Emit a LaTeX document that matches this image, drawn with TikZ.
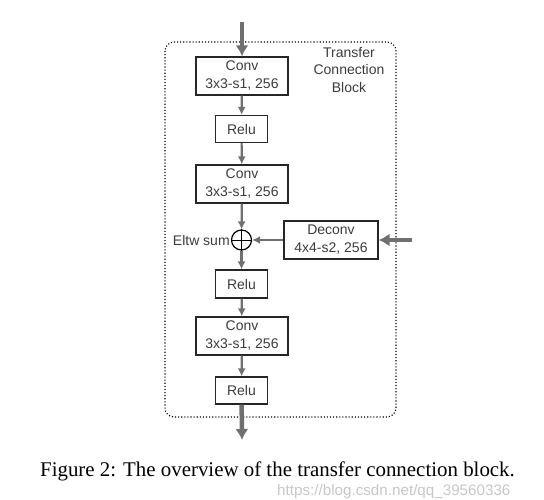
\documentclass[tikz,border=0pt]{standalone}
\usepackage{fontspec}
\setmainfont{Liberation Serif}
\setsansfont{Liberation Sans}
\usepackage{xcolor}
\usetikzlibrary{arrows.meta}
\definecolor{flowgray}{HTML}{707070}
\definecolor{textgray}{HTML}{3C3C3C}
\tikzset{
  layer/.style={draw=black!85,line width=1.2pt,inner sep=0pt,align=center,
    font=\sffamily\fontsize{14}{18}\selectfont,text=textgray},
  convbox/.style={layer,minimum width=92pt,minimum height=38pt},
  relubox/.style={layer,minimum width=52pt,minimum height=27pt},
  flow/.style={-{Latex[length=8pt,width=8pt]},color=flowgray,line width=2.2pt},
  mainflow/.style={-{Latex[length=11pt,width=13pt]},color=flowgray,line width=4.5pt}
}
\begin{document}
\begin{tikzpicture}[x=1pt,y=1pt]
		\useasboundingbox (0,0) rectangle (544,-500);
		\draw[line width=1.1pt,dotted,rounded corners=9pt] (165,-42) rectangle (396,-417);
		\node[align=center,font=\sffamily\fontsize{14}{17.5}\selectfont,text=textgray] (tcb) at (349,-70) {Transfer\\Connection\\Block};
		%
		\coordinate (in) at (242,-22);
		\node[convbox] (conv1) at (242,-76) {Conv\\3x3-s1, 256};
		\node[relubox] (relu1) at (241.5,-129) {Relu};
		\node[convbox] (conv2) at (242,-184) {Conv\\3x3-s1, 256};
		\node[circle,draw=black,line width=1.2pt,minimum size=20pt,inner sep=0pt] (sum) at (241.5,-240) {};
		\draw[line width=1pt] (sum.north) -- (sum.south) (sum.west) -- (sum.east);
		\node[anchor=east,inner sep=1pt,font=\sffamily\fontsize{14}{17}\selectfont,text=textgray] (eltw) at (sum.west) {Eltw sum};
		\node[convbox,minimum width=94pt] (deconv) at (331,-240) {Deconv\\4x4-s2, 256};
		\coordinate (side) at (412,-240);
		\node[relubox,minimum height=28pt] (relu2) at (241.5,-284) {Relu};
		\node[convbox] (conv3) at (242,-336) {Conv\\3x3-s1, 256};
		\node[relubox] (relu3) at (241.5,-390.5) {Relu};
		\coordinate (out) at (242,-440);
		%
		\path[mainflow]
		(in) edge (conv1)
		(side) edge (deconv)
		(relu3) edge (out);
		\path[flow]
		(conv1) edge (relu1)
		(relu1) edge (conv2)
		(conv2) edge (sum)
		(deconv) edge (sum)
		(sum) edge (relu2)
		(relu2) edge (conv3)
		(conv3) edge (relu3);
		%
		\node[font=\fontsize{20.9}{23}\selectfont] (caption) at (277.5,-471) {Figure 2: The overview of the transfer connection block.};
		\node[anchor=east,font=\sffamily\fontsize{15.2}{17}\selectfont,text=black!22] (mark) at (514,-492) {https://blog.csdn.net/qq\_39560336};
		\end{tikzpicture}
\end{document}
